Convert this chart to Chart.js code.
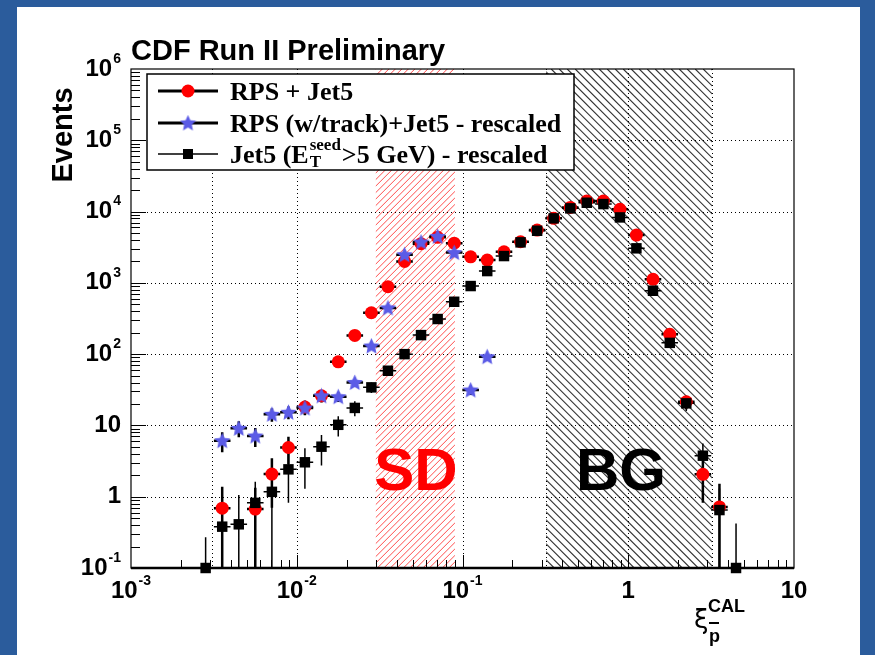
<!DOCTYPE html>
<html>
<head>
<meta charset="utf-8">
<script src="https://cdn.jsdelivr.net/npm/chart.js@4.4.1/dist/chart.umd.min.js"></script>
<style>
  html, body { margin: 0; padding: 0; background: #fff; }
  canvas { display: block; }
</style>
</head>
<body>
<canvas id="xiChart" width="875" height="655"></canvas>
<script>
// bin centres in xi (bins are 0.1 decade wide)
const xiBins = [0.00282, 0.00355, 0.00447, 0.00562, 0.00708, 0.00891, 0.0112, 0.0141, 0.0178, 0.0224,
                0.0282, 0.0355, 0.0447, 0.0562, 0.0708, 0.0891, 0.112, 0.141, 0.178, 0.224,
                0.282, 0.355, 0.447, 0.562, 0.708, 0.891, 1.12, 1.41, 1.78, 2.24,
                2.82, 3.55, 4.47];

// RPS + Jet5
const rpsJet5 = [null, 0.69, null, 0.67, 2.08, 4.9, 18.1, 26, 78, 183,
                 381, 882, 2000, 3540, 4350, 3600, 2320, 2090, 2730, 3775,
                 5500, 8030, 11450, 14030, 14030, 10740, 4680, 1120, 190, 21.5,
                 2.06, 0.72, null];
const rpsJet5Err = [0, 0.69, 0, 0.67, 1.38, 2.05, 4.2, 5.1, 8.8, 13.5,
                    19.5, 30, 45, 60, 66, 60, 48, 46, 52, 61,
                    74, 90, 107, 118, 118, 104, 68, 33, 14, 4.6,
                    1.24, 0.8, 0];

// RPS (w/track)+Jet5 - rescaled
const rpsTrack = [null, 6.1, 9.1, 7.1, 14.3, 15.3, 17.5, 26, 25.3, 40,
                  130, 445, 2480, 3740, 4480, 2660, 31.4, 92, null, null,
                  null, null, null, null, null, null, null, null, null, null,
                  null, null, null];
const rpsTrackErr = [0, 1.9, 2.3, 2.1, 3.0, 3.1, 3.3, 4.1, 4.0, 5.2,
                     9.5, 17, 42, 50, 55, 42, 4.6, 7.8, 0, 0,
                     0, 0, 0, 0, 0, 0, 0, 0, 0, 0,
                     0, 0, 0];

// Jet5 (E_T^seed > 5 GeV) - rescaled
const jet5 = [0.1, 0.38, 0.41, 0.82, 1.17, 2.42, 3.04, 5.03, 10.2, 17.6,
              34.2, 58.5, 100, 185, 311, 543, 902, 1463, 2376, 3700,
              5380, 8030, 11090, 13300, 12740, 8280, 3050, 775, 144, 20.4,
              3.76, 0.65, 0.1];
const jet5Err = [0.17, 0.38, 0.65, 0.8, 1.17, 1.6, 1.75, 2.3, 3.2, 4.2,
                 5.8, 7.6, 10, 13.6, 17.6, 23, 30, 38, 49, 61,
                 73, 90, 105, 115, 113, 91, 55, 28, 12, 4.5,
                 1.8, 0.65, 0.32];

const xTicks = [0.001, 0.01, 0.1, 1, 10];
const xTickLabels = [['10', '-3'], ['10', '-2'], ['10', '-1'], ['1', ''], ['10', '']];
const yTicks = [0.1, 1, 10, 100, 1000, 10000, 100000, 1000000];
const yTickLabels = [['10', '-1'], ['1', ''], ['10', ''], ['10', '2'], ['10', '3'], ['10', '4'], ['10', '5'], ['10', '6']];

const sdRange = [0.03, 0.09];
const bgRange = [0.32, 3.2];
const dottedMarks = [0.0031, 0.32, 3.2];

const seriesNames = ['RPS + Jet5', 'RPS (w/track)+Jet5 - rescaled', 'Jet5 (E_T^seed>5 GeV) - rescaled'];

const BLUE = '#2b5c9c';
const STAR_COLOR = '#5b5be6';
const SANS = '"Liberation Sans", Arial, Helvetica, sans-serif';
const SERIF = '"Liberation Serif", "Times New Roman", serif';
const BIN_HALF = 1.122; // half a bin (0.05 decade) as a factor

// filled five point star used as marker
function makeStar(size, color) {
    const c = document.createElement('canvas');
    c.width = size; c.height = size;
    const g = c.getContext('2d');
    const cx = size / 2, cy = size / 2 + 0.5;
    const ro = size / 2, ri = ro * 0.48;
    g.beginPath();
    for (let i = 0; i < 10; i++) {
        const r = i % 2 === 0 ? ro : ri;
        const a = -Math.PI / 2 + i * Math.PI / 5;
        const px = cx + r * Math.cos(a), py = cy + r * Math.sin(a);
        if (i === 0) g.moveTo(px, py); else g.lineTo(px, py);
    }
    g.closePath();
    g.fillStyle = color;
    g.fill();
    return c;
}
const starImg = makeStar(17, STAR_COLOR);

function toPoints(vals, errs) {
    const pts = [];
    xiBins.forEach((x, i) => {
        if (vals[i] !== null) pts.push({ x: x, y: vals[i], err: errs[i] });
    });
    return pts;
}

// 10^n style label
function powLabel(ctx, base, exp, x, y, align) {
    const baseFont = 'bold 24px ' + SANS;
    const expFont = 'bold 14px ' + SANS;
    ctx.font = baseFont;
    const wb = ctx.measureText(base).width;
    ctx.font = expFont;
    const we = exp ? ctx.measureText(exp).width + 1 : 0;
    const total = wb + we;
    const left = align === 'right' ? x - total : x - total / 2;
    ctx.textAlign = 'left';
    ctx.textBaseline = 'middle';
    ctx.fillStyle = '#000';
    ctx.font = baseFont;
    ctx.fillText(base, left, y);
    if (exp) {
        ctx.font = expFont;
        ctx.fillText(exp, left + wb + 1, y - 10);
    }
}

function hatch(ctx, area, x0, x1, spacing, dir, color, lw) {
    const h = area.bottom - area.top;
    ctx.save();
    ctx.beginPath();
    ctx.rect(x0, area.top, x1 - x0, h);
    ctx.clip();
    ctx.strokeStyle = color;
    ctx.lineWidth = lw;
    ctx.beginPath();
    for (let s = x0 - h; s < x1 + h; s += spacing) {
        if (dir > 0) {
            ctx.moveTo(s, area.bottom); ctx.lineTo(s + h, area.top);
        } else {
            ctx.moveTo(s, area.top); ctx.lineTo(s + h, area.bottom);
        }
    }
    ctx.stroke();
    ctx.restore();
}

const backgroundPlugin = {
    id: 'background',
    beforeDraw(chart) {
        const ctx = chart.ctx;
        ctx.save();
        ctx.fillStyle = '#fff';
        ctx.fillRect(0, 0, chart.width, chart.height);
        ctx.fillStyle = BLUE;
        ctx.fillRect(0, 0, 17, chart.height);
        ctx.fillRect(0, 0, chart.width, 7);
        ctx.fillRect(860, 0, chart.width - 860, chart.height);
        ctx.restore();
    }
};

const underlayPlugin = {
    id: 'underlay',
    beforeDatasetsDraw(chart) {
        const ctx = chart.ctx;
        const area = chart.chartArea;
        const xs = chart.scales.x, ys = chart.scales.y;

        // SD and BG regions
        hatch(ctx, area, xs.getPixelForValue(sdRange[0]), xs.getPixelForValue(sdRange[1]), 6.5, 1, '#ff3a3a', 0.9);
        hatch(ctx, area, xs.getPixelForValue(bgRange[0]), xs.getPixelForValue(bgRange[1]), 8, -1, '#333', 1.1);

        // dotted grid
        ctx.save();
        ctx.strokeStyle = '#000';
        ctx.lineWidth = 1;
        ctx.setLineDash([1, 3]);
        ctx.beginPath();
        yTicks.forEach(v => {
            if (v <= ys.min || v >= ys.max) return;
            const py = Math.round(ys.getPixelForValue(v)) + 0.5;
            ctx.moveTo(area.left, py); ctx.lineTo(area.right, py);
        });
        xTicks.concat(dottedMarks).forEach(v => {
            if (v <= xs.min || v >= xs.max) return;
            const px = Math.round(xs.getPixelForValue(v)) + 0.5;
            ctx.moveTo(px, area.top); ctx.lineTo(px, area.bottom);
        });
        ctx.stroke();
        ctx.restore();

        // region labels
        ctx.save();
        ctx.font = 'bold 60px ' + SANS;
        ctx.textAlign = 'center';
        ctx.textBaseline = 'alphabetic';
        ctx.fillStyle = '#ff0000';
        ctx.fillText('SD', 416, 490);
        ctx.fillStyle = '#000';
        ctx.fillText('BG', 621, 490);
        ctx.restore();

        // error bars (vertical: errors, horizontal: bin width)
        const widths = [2.5, 2.5, 1.5];
        ctx.save();
        ctx.strokeStyle = '#000';
        chart.data.datasets.forEach((ds, di) => {
            ctx.lineWidth = widths[di];
            ctx.beginPath();
            ds.data.forEach(p => {
                const px = xs.getPixelForValue(p.x);
                const py = ys.getPixelForValue(p.y);
                const lo = Math.max(p.y - p.err, ys.min);
                const hi = p.y + p.err;
                ctx.moveTo(px, ys.getPixelForValue(lo));
                ctx.lineTo(px, ys.getPixelForValue(hi));
                ctx.moveTo(xs.getPixelForValue(p.x / BIN_HALF), py);
                ctx.lineTo(xs.getPixelForValue(p.x * BIN_HALF), py);
            });
            ctx.stroke();
        });
        ctx.restore();
    }
};

const overlayPlugin = {
    id: 'overlay',
    afterDatasetsDraw(chart) {
        const ctx = chart.ctx;
        const area = chart.chartArea;
        const xs = chart.scales.x, ys = chart.scales.y;

        // legend box
        const lx = 147, ly = 74, lw = 427, lh = 96;
        ctx.save();
        ctx.fillStyle = '#fff';
        ctx.fillRect(lx, ly, lw, lh);
        ctx.strokeStyle = '#000';
        ctx.lineWidth = 1.5;
        ctx.strokeRect(lx, ly, lw, lh);
        const rows = [91, 123, 154];
        const lineW = [3, 3, 1.5];
        rows.forEach((ry, i) => {
            ctx.strokeStyle = '#000';
            ctx.lineWidth = lineW[i];
            ctx.beginPath();
            ctx.moveTo(158, ry); ctx.lineTo(218, ry);
            ctx.stroke();
            if (i === 0) {
                ctx.fillStyle = '#ff0000';
                ctx.beginPath(); ctx.arc(188, ry, 6.5, 0, Math.PI * 2); ctx.fill();
            } else if (i === 1) {
                ctx.drawImage(starImg, 188 - starImg.width / 2, ry - starImg.height / 2);
            } else {
                ctx.fillStyle = '#000';
                ctx.fillRect(183, ry - 5, 10, 10);
            }
        });
        ctx.fillStyle = '#000';
        ctx.textAlign = 'left';
        ctx.textBaseline = 'alphabetic';
        const legFont = 'bold 26px ' + SERIF;
        const smallFont = 'bold 17px ' + SERIF;
        ctx.font = legFont;
        ctx.fillText(seriesNames[0], 230, rows[0] + 9);
        ctx.fillText(seriesNames[1], 230, rows[1] + 9);
        // third entry with super/subscript
        let tx = 230;
        const part1 = 'Jet5 (E';
        ctx.fillText(part1, tx, rows[2] + 9);
        tx += ctx.measureText(part1).width + 1;
        ctx.font = smallFont;
        ctx.fillText('seed', tx, rows[2] - 4);
        ctx.fillText('T', tx, rows[2] + 13);
        tx += ctx.measureText('seed').width + 1;
        ctx.font = legFont;
        ctx.fillText('>5 GeV) - rescaled', tx, rows[2] + 9);
        ctx.restore();

        // frame
        ctx.save();
        ctx.strokeStyle = '#000';
        ctx.lineWidth = 1.2;
        ctx.strokeRect(area.left, area.top, area.right - area.left, area.bottom - area.top);
        ctx.lineWidth = 2.5;
        ctx.beginPath();
        ctx.moveTo(area.left, area.bottom); ctx.lineTo(area.right, area.bottom);
        ctx.stroke();

        // ticks
        ctx.lineWidth = 1;
        ctx.beginPath();
        for (let d = 0.1; d < 1e6 * 0.99; d *= 10) {
            for (let m = 1; m <= 9; m++) {
                const v = d * m;
                const py = Math.round(ys.getPixelForValue(v)) + 0.5;
                const len = m === 1 ? 15 : 9;
                if (m === 1 && v <= ys.min) continue;
                ctx.moveTo(area.left, py); ctx.lineTo(area.left + len, py);
            }
        }
        for (let d = 0.001; d < 10 * 0.99; d *= 10) {
            for (let m = 1; m <= 9; m++) {
                const v = d * m;
                const px = Math.round(xs.getPixelForValue(v)) + 0.5;
                const len = m === 1 ? 13 : 8;
                if (m === 1 && v <= xs.min) continue;
                ctx.moveTo(px, area.bottom); ctx.lineTo(px, area.bottom - len);
            }
        }
        ctx.stroke();
        ctx.restore();

        // tick labels
        ctx.save();
        yTicks.forEach((v, i) => {
            powLabel(ctx, yTickLabels[i][0], yTickLabels[i][1], 121, ys.getPixelForValue(v), 'right');
        });
        xTicks.forEach((v, i) => {
            powLabel(ctx, xTickLabels[i][0], xTickLabels[i][1], xs.getPixelForValue(v), 591, 'center');
        });

        // title
        ctx.font = 'bold 29px ' + SANS;
        ctx.textAlign = 'left';
        ctx.textBaseline = 'alphabetic';
        ctx.fillStyle = '#000';
        ctx.fillText('CDF Run II Preliminary', 131, 60);

        // y title
        ctx.save();
        ctx.translate(72, 135);
        ctx.rotate(-Math.PI / 2);
        ctx.textAlign = 'center';
        ctx.font = 'bold 29px ' + SANS;
        ctx.fillText('Events', 0, 0);
        ctx.restore();

        // x title: xi_pbar^CAL
        ctx.font = '26px "DejaVu Sans", sans-serif';
        ctx.fillText('\u03BE', 694, 628);
        ctx.font = 'bold 18px ' + SANS;
        ctx.fillText('CAL', 708, 612);
        ctx.fillText('p', 709, 642);
        ctx.fillRect(709, 622, 10, 2);
        ctx.restore();
    }
};

const ctx = document.getElementById('xiChart').getContext('2d');
new Chart(ctx, {
    type: 'scatter',
    data: {
        datasets: [
            {
                label: seriesNames[0],
                data: toPoints(rpsJet5, rpsJet5Err),
                pointStyle: 'circle',
                pointRadius: 6.5,
                backgroundColor: '#ff0000',
                borderColor: '#ff0000',
                borderWidth: 0,
                order: 2,
                clip: false
            },
            {
                label: seriesNames[1],
                data: toPoints(rpsTrack, rpsTrackErr),
                pointStyle: starImg,
                pointRadius: 8,
                order: 1,
                clip: false
            },
            {
                label: seriesNames[2],
                data: toPoints(jet5, jet5Err),
                pointStyle: 'rect',
                pointRadius: 7.4,
                backgroundColor: '#000',
                borderColor: '#000',
                borderWidth: 0,
                order: 0,
                clip: false
            }
        ]
    },
    options: {
        responsive: false,
        animation: false,
        devicePixelRatio: 1,
        layout: { padding: { left: 131, right: 81, top: 69, bottom: 87 } },
        scales: {
            x: { type: 'logarithmic', min: 0.001, max: 10, display: false },
            y: { type: 'logarithmic', min: 0.1, max: 1000000, display: false }
        },
        plugins: {
            legend: { display: false },
            tooltip: { enabled: false }
        },
        elements: { point: { hoverRadius: 0 } }
    },
    plugins: [backgroundPlugin, underlayPlugin, overlayPlugin]
});
</script>
</body>
</html>
